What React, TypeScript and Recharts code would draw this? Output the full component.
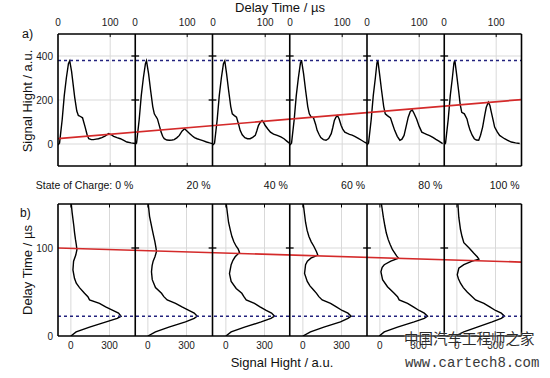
import { LineChart, Line, XAxis, YAxis, ReferenceLine } from 'recharts'

const FONT = '"Liberation Sans", Arial, sans-serif'
const RED = '#d42a2a'
const NAVY = '#23237e'
const GRID = '#d9d9d9'

const socLabels = ['State of Charge: 0 %', '20 %', '40 %', '60 %', '80 %', '100 %']
const delayTicks = [0, 100]
const signalTicks = [0, 300]
const hightTicks = [0, 200, 400]
const delayAxisTicks = [0, 100]
const dividers = [0, 1, 2, 3, 4, 5, 6]

// panel a) signal vs delay time: [delay µs, signal a.u.]
const sigA0 = [[0, -5], [3, 5], [8, 110], [12, 220], [16, 300], [20, 365], [22.5, 378], [26, 330], [32, 212], [36, 150], [39, 130], [43, 125], [47, 119], [52, 77], [56, 40], [59, 24], [64, 20], [68, 20], [73, 22], [77.5, 24], [84, 29], [90, 36], [97, 47], [102, 42], [106.6, 35], [113, 29], [119.5, 24], [126, 16], [132, 9], [140, 5], [148, 2]]
const sigA1 = [[0, -3], [3, 5], [8, 110], [12, 220], [16, 300], [20, 365], [22, 378], [26, 320], [30, 242], [34, 170], [37, 137], [40, 125], [43, 114], [47, 80], [50, 54], [53, 35], [56, 24], [61, 18], [66, 17], [71, 18], [75, 20], [80, 28], [85, 39], [90, 58], [95, 69], [100, 58], [105, 47], [110, 36], [114, 29], [119, 24], [124, 20], [130, 15], [137, 9], [143, 5], [148, 2]]
const sigA2 = [[0, -5], [3, 5], [8, 110], [12, 220], [16, 300], [20, 365], [22.6, 378], [26, 320], [30, 242], [34, 170], [37, 137], [41, 129], [45, 122], [49, 90], [52, 62], [56, 42], [61, 29], [66, 24], [71, 24], [76, 30], [81, 39], [84, 60], [87, 84], [91, 100], [94, 107], [97, 98], [100, 84], [105, 68], [110, 54], [116, 45], [123, 39], [130, 32], [136, 24], [142, 12], [147, 2]]
const sigA3 = [[0, -5], [3, 5], [8, 110], [12, 220], [16, 300], [20, 368], [22, 381], [26, 320], [30, 242], [34, 170], [37, 137], [40, 125], [45, 119], [49, 90], [52, 62], [56, 42], [59, 29], [64, 20], [69, 17], [74, 25], [79, 47], [82, 75], [85, 107], [88, 122], [91, 129], [94, 115], [98, 84], [101, 68], [105, 54], [110, 48], [114, 44], [119, 40], [124, 35], [130, 27], [137, 17], [143, 8], [148, 2]]
const sigA4 = [[0, -5], [3, 5], [8, 110], [12, 220], [16, 300], [19, 368], [20.7, 381], [24, 320], [28, 242], [32, 170], [35, 137], [39, 129], [45, 119], [49, 90], [53, 62], [58, 35], [63, 17], [67, 22], [71, 39], [75, 80], [79, 122], [83, 148], [86.6, 155], [90, 140], [95, 114], [100, 80], [105, 54], [110, 48], [114, 44], [120, 38], [127, 29], [132, 21], [137, 14], [145, 2]]
const sigA5 = [[0, -5], [3, 5], [8, 110], [12, 220], [16, 300], [19, 368], [20.7, 381], [24, 320], [28, 242], [31, 180], [34, 144], [39, 137], [44, 114], [47, 85], [50, 62], [54, 40], [58, 24], [62, 18], [66.5, 17], [70, 40], [74, 77], [78, 130], [81, 167], [85, 190], [88, 175], [90, 152], [94, 110], [97, 77], [102, 55], [106.6, 39], [111, 32], [116, 24], [122, 17], [129, 9], [137, 5], [145, 2]]

// panel b) delay time vs signal: [delay µs, signal a.u.]
const sigB0 = [[0, 0], [4.6, 41], [10, 145], [16, 274], [20, 360], [22.5, 390], [26, 370], [29, 326], [33, 270], [37, 222], [41, 145], [44.7, 132], [48.5, 106], [55, 67], [60, 42], [65.6, 28], [75, 16], [85, 21], [92, 38], [98, 47], [104, 42], [109.5, 36], [117, 29], [125, 23], [140, 10], [150, 3]]
const sigB1 = [[0, 0], [4.6, 59], [10, 163], [16, 292], [20, 360], [22.5, 383], [26, 360], [29, 318], [33, 265], [37, 215], [41, 150], [44.7, 124], [48.5, 106], [55, 59], [64, 34], [73, 28], [80, 33], [85, 41], [90, 55], [96, 67], [101, 62], [107.6, 54], [114, 44], [121, 34], [136, 13], [150, 3]]
const sigB2 = [[0, 0], [4.6, 41], [10, 145], [16, 274], [20, 350], [22.5, 378], [26, 355], [29, 313], [33, 265], [37, 222], [41, 158], [44.7, 140], [48.5, 124], [54, 80], [62, 41], [71, 28], [81, 41], [86, 55], [90, 72], [95, 106], [99, 95], [102, 80], [107, 62], [113, 47], [120, 35], [129, 21], [150, 3]]
const sigB3 = [[0, 0], [4.6, 59], [10, 163], [16, 292], [20, 350], [22.5, 375], [26, 350], [29, 305], [33, 260], [37, 215], [41, 150], [44.7, 124], [48.5, 106], [52, 85], [57, 55], [62, 34], [71, 13], [81, 21], [85, 35], [88.5, 62], [92, 116], [96, 105], [102, 85], [107, 65], [113, 47], [120, 33], [129, 21], [150, 3]]
const sigB4 = [[0, -5], [4.6, 34], [10, 137], [16, 266], [20, 345], [22.5, 370], [26, 345], [29, 305], [33, 260], [37, 215], [41, 150], [44.7, 137], [48.5, 111], [56, 59], [64, 21], [73, 8], [78, 18], [81, 34], [85, 85], [88.5, 145], [91, 130], [95, 112], [98, 98], [104, 80], [109.5, 65], [117, 50], [125, 39], [135, 27], [150, 12]]
const sigB5 = [[0, -10], [4.6, 54], [10, 158], [16, 274], [20, 345], [22.5, 370], [26, 345], [29, 300], [33, 255], [37, 210], [41, 145], [44.7, 119], [50, 80], [55, 50], [60, 28], [65, 12], [69.5, 3], [77, 15], [81, 54], [85, 119], [87.4, 171], [90, 158], [94, 132], [100, 95], [106, 54], [113, 40], [121, 28], [135, 15], [150, 8]]

const panelA = [sigA0, sigA1, sigA2, sigA3, sigA4, sigA5]
const panelB = [sigB0, sigB1, sigB2, sigB3, sigB4, sigB5]

// red trend lines across the six panels, blue dashed first-peak markers
const trendA = [{ p: 0, v: 24 }, { p: 6, v: 202 }]
const trendB = [{ p: 0, d: 100 }, { p: 6, d: 84 }]
const peakSignal = 380
const peakDelay = 22.5

const X0 = 58
const SUB_W = 77.25
const PW = SUB_W * 6
const PH = 132
const A_TOP = 34
const B_TOP = 204

const tickStyle = { fontSize: 10, fill: '#1a1a1a', fontFamily: FONT }
const noMargin = { top: 0, right: 0, bottom: 0, left: 0 }

function SubA({ rows }: { rows: number[][] }) {
  const data = rows.map(([t, v]) => ({ t, v }))
  return (
    <LineChart width={SUB_W} height={PH + 20} data={data} margin={noMargin}>
      <XAxis type="number" dataKey="t" orientation="top" height={20} domain={[0, 148]} ticks={delayTicks}
        interval={0} axisLine={false} tickLine={false} tick={tickStyle} allowDataOverflow />
      <YAxis type="number" domain={[-100, 500]} hide allowDataOverflow />
      {hightTicks.map((y) => <ReferenceLine key={y} y={y} stroke={GRID} />)}
      <ReferenceLine x={100} stroke={GRID} />
      <ReferenceLine segment={[{ x: 100, y: 500 }, { x: 100, y: 486 }]} stroke="#000" />
      <ReferenceLine segment={[{ x: 100, y: -100 }, { x: 100, y: -86 }]} stroke="#000" />
      <Line type="linear" dataKey="v" stroke="#000" strokeWidth={1.4} dot={false} isAnimationActive={false} />
    </LineChart>
  )
}

function SubB({ rows }: { rows: number[][] }) {
  const data = rows.map(([d, s]) => ({ d, s }))
  return (
    <LineChart width={SUB_W} height={PH + 20} data={data} margin={noMargin}>
      <XAxis type="number" dataKey="s" orientation="bottom" height={20} domain={[-100, 500]} ticks={signalTicks}
        interval={0} axisLine={false} tickLine={false} tickSize={4} tick={tickStyle} allowDataOverflow />
      <YAxis type="number" domain={[0, 150]} hide allowDataOverflow />
      {signalTicks.map((x) => <ReferenceLine key={x} x={x} stroke={GRID} />)}
      <ReferenceLine y={100} stroke={GRID} />
      {signalTicks.map((x) => <ReferenceLine key={'t' + x} segment={[{ x, y: 150 }, { x, y: 146 }]} stroke="#000" />)}
      <Line type="linear" dataKey="d" stroke="#000" strokeWidth={1.4} dot={false} isAnimationActive={false} />
    </LineChart>
  )
}

function Frame({ top, bottom, marks }: { top: number; bottom: number; marks: number[] }) {
  return (
    <>
      {dividers.map((k) => <ReferenceLine key={'d' + k} x={k} stroke="#000" strokeWidth={1.6} />)}
      <ReferenceLine y={top} stroke="#000" strokeWidth={1.6} />
      <ReferenceLine y={bottom} stroke="#000" strokeWidth={1.6} />
      {dividers.flatMap((k) => marks.map((m) => (
        <ReferenceLine key={'m' + k + '-' + m} segment={[{ x: k - 0.05, y: m }, { x: k + 0.05, y: m }]} stroke="#000" strokeWidth={1.3} />
      )))}
    </>
  )
}

const txt = (extra: any) => ({ position: 'absolute' as const, fontFamily: FONT, color: '#111', whiteSpace: 'nowrap' as const, lineHeight: 1, ...extra })

export default function App() {
  return (
    <div style={{ position: 'absolute', left: 0, top: 0, width: 550, height: 378, background: '#fff', overflow: 'hidden' }}>
      <style>{'.recharts-surface{overflow:visible}'}</style>

      {panelA.map((rows, i) => (
        <div key={'a' + i} style={{ position: 'absolute', left: X0 + i * SUB_W, top: A_TOP - 20 }}>
          <SubA rows={rows} />
        </div>
      ))}
      <div style={{ position: 'absolute', left: X0 - 40, top: A_TOP }}>
        <LineChart width={PW + 40} height={PH} data={trendA} margin={noMargin}>
          <XAxis type="number" dataKey="p" domain={[0, 6]} hide />
          <YAxis type="number" domain={[-100, 500]} ticks={hightTicks} interval={0} width={40}
            axisLine={false} tickLine={false} tickSize={3} tickMargin={2} tick={tickStyle} />
          <ReferenceLine y={peakSignal} stroke={NAVY} strokeDasharray="3 3" strokeWidth={1.5} />
          <Line type="linear" dataKey="v" stroke={RED} strokeWidth={1.7} dot={false} isAnimationActive={false} />
          {Frame({ top: 500, bottom: -100, marks: [200, 400] })}
        </LineChart>
      </div>

      {panelB.map((rows, i) => (
        <div key={'b' + i} style={{ position: 'absolute', left: X0 + i * SUB_W, top: B_TOP }}>
          <SubB rows={rows} />
        </div>
      ))}
      <div style={{ position: 'absolute', left: X0 - 40, top: B_TOP }}>
        <LineChart width={PW + 40} height={PH} data={trendB} margin={noMargin}>
          <XAxis type="number" dataKey="p" domain={[0, 6]} hide />
          <YAxis type="number" domain={[0, 150]} ticks={delayAxisTicks} interval={0} width={40}
            axisLine={false} tickLine={false} tickSize={3} tickMargin={2} tick={tickStyle} />
          <ReferenceLine y={peakDelay} stroke={NAVY} strokeDasharray="3 3" strokeWidth={1.5} />
          <Line type="linear" dataKey="d" stroke={RED} strokeWidth={1.7} dot={false} isAnimationActive={false} />
          {Frame({ top: 150, bottom: 0, marks: [100] })}
        </LineChart>
      </div>

      <div style={txt({ left: 280, top: 1, fontSize: 13, transform: 'translateX(-50%)' })}>Delay Time / µs</div>
      <div style={txt({ left: 22, top: 28, fontSize: 12.5 })}>a)</div>
      <div style={txt({ left: 27, top: 101, fontSize: 13, transform: 'translate(-50%,-50%) rotate(-90deg)' })}>Signal Hight / a.u.</div>

      {socLabels.map((s, i) => (
        <div key={s} style={txt({ left: X0 + (i + 1) * SUB_W - 2, top: 180, fontSize: 10.5, transform: 'translateX(-100%)' })}>{s}</div>
      ))}

      <div style={txt({ left: 20, top: 207, fontSize: 12 })}>b)</div>
      <div style={txt({ left: 27, top: 270, fontSize: 13, transform: 'translate(-50%,-50%) rotate(-90deg)' })}>Delay Time / µs</div>
      <div style={txt({ left: 282, top: 356, fontSize: 13, transform: 'translateX(-50%)' })}>Signal Hight / a.u.</div>

      <div style={txt({ left: 404, top: 331, fontSize: 14.5, color: '#2a2a2a', fontFamily: '"Noto Sans CJK SC", sans-serif', textShadow: '0 0 2px #fff' })}>中国汽车工程师之家</div>
      <div style={txt({ left: 405, top: 356, fontSize: 14, color: '#3a3a3a', fontFamily: '"Liberation Mono", monospace' })}>www.cartech8.com</div>
    </div>
  )
}
